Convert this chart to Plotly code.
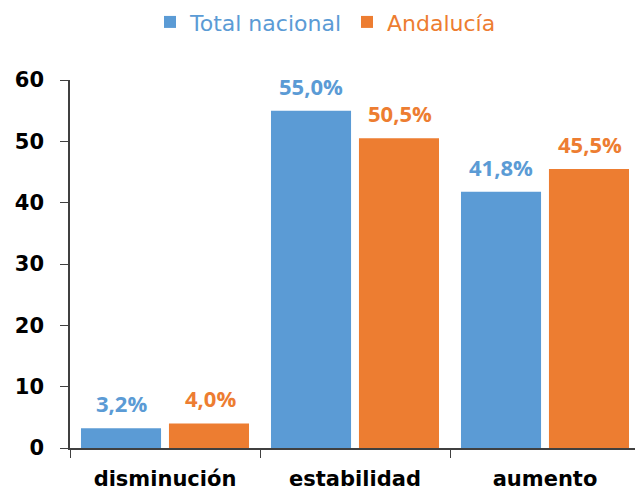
import plotly.graph_objects as go

categories = ["disminución", "estabilidad", "aumento"]
total_nacional = [3.2, 55.0, 41.8]
andalucia = [4.0, 50.5, 45.5]
series_names = ["Total nacional", "Andalucía"]
colors = ["#5B9BD5", "#ED7D31"]

def fmt(v):
    return f"{v:.1f}".replace(".", ",") + "%"

fig = go.Figure()
for name, vals, col in zip(series_names, [total_nacional, andalucia], colors):
    fig.add_trace(go.Bar(
        x=categories, y=vals, name=f'<span style="color:{col}">{name}</span>',
        marker=dict(color=col, line=dict(width=0)),
    ))

offsets = [-44, 45]
for vals, col, off in zip([total_nacional, andalucia], colors, offsets):
    for cat, v in zip(categories, vals):
        fig.add_annotation(
            x=cat, y=v, xref="x", yref="y", xshift=off, yshift=8,
            yanchor="bottom", showarrow=False,
            text=f"<b>{fmt(v)}</b>",
            font=dict(color=col, size=22, family="Open Sans"),
        )

fig.update_layout(
    width=635, height=487,
    margin=dict(l=62, r=3, t=72, b=47, autoexpand=False),
    paper_bgcolor="white", plot_bgcolor="white",
    barmode="group", bargap=0.074, bargroupgap=0.09,
    showlegend=True,
    legend=dict(orientation="h", x=0.5, xref="container", xanchor="center",
                y=0.971, yanchor="middle", yref="container",
                font=dict(size=22, family="DejaVu Sans"),
                itemsizing="constant", itemwidth=30),
    xaxis=dict(showline=True, linecolor="#404040", linewidth=1.5, automargin=False,
               ticks="outside", tickson="boundaries", ticklen=8, tickcolor="#404040",
               tickfont=dict(size=21, family="DejaVu Sans", color="black"),
               tickprefix="<b>", ticksuffix="</b>", ticklabelstandoff=11),
    yaxis=dict(range=[0, 60], dtick=10, showline=True, linecolor="#404040", linewidth=1.5,
               automargin=False,
               ticks="outside", ticklen=8, tickcolor="#404040", showgrid=False, zeroline=False,
               tickfont=dict(size=21, family="DejaVu Sans", color="black"),
               tickprefix="<b>", ticksuffix="</b>", ticklabelstandoff=12),
)

fig.write_html("out.html")
